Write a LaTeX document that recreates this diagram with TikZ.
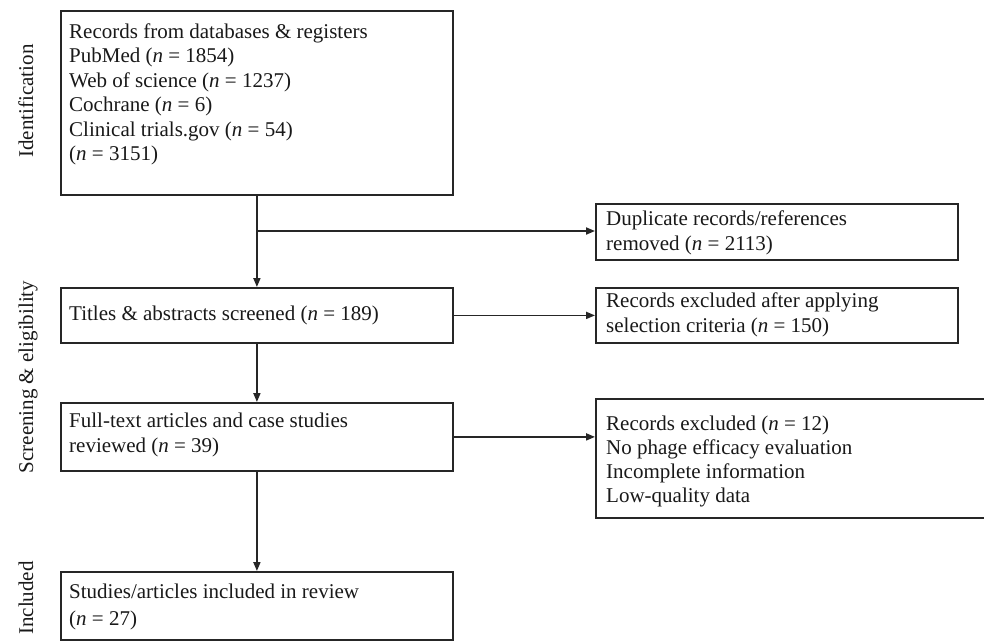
\documentclass[tikz,border=0pt]{standalone}
\usepackage{fontspec}
\setmainfont{Liberation Serif}
\usetikzlibrary{arrows.meta}
\newcommand{\txtlines}[2][24.5pt]{{\fontsize{21pt}{#1}\selectfont\begin{tabular}[t]{@{}l@{}}#2\end{tabular}}}
\begin{document}
\begin{tikzpicture}[x=1pt,y=-1pt,
  box/.style={draw=black!85, line width=1.8pt, rectangle, inner sep=0pt, anchor=north west},
  txt/.style={inner sep=0pt, anchor=base west, text=black!90},
  side/.style={inner sep=0pt, rotate=90, anchor=base, font=\fontsize{21pt}{24pt}\selectfont, text=black!90},
  conn/.style={draw=black!85, line width=1.8pt},
  arr/.style={conn, -{Triangle[length=9pt,width=7pt]}}]
\useasboundingbox (0,0) rectangle (984,641);
\clip (0,0) rectangle (984,641);
\fill[white] (0,0) rectangle (984,641);
% boxes
\node[box, minimum width=392pt, minimum height=184pt] (idb) at (60,10) {};
\node[box, minimum width=362pt, minimum height=56pt] (dup) at (595,203) {};
\node[box, minimum width=392pt, minimum height=55pt] (tit) at (60,287) {};
\node[box, minimum width=362pt, minimum height=55pt] (exa) at (595,287) {};
\node[box, minimum width=392pt, minimum height=68pt] (ful) at (60,402) {};
\node[box, minimum width=420pt, minimum height=119pt] (exb) at (595,398) {};
\node[box, minimum width=392pt, minimum height=68pt] (stu) at (60,571) {};
% texts
\node[txt] (t1) at (69,38) {\txtlines{Records from databases \& registers\\PubMed (\textit{n} = 1854)\\Web of science (\textit{n} = 1237)\\Cochrane (\textit{n} = 6)\\Clinical trials.gov (\textit{n} = 54)\\(\textit{n} = 3151)}};
\node[txt] (t2) at (606,225) {\txtlines[25pt]{Duplicate records/references\\removed (\textit{n} = 2113)}};
\node[txt] (t3) at (69,320) {\txtlines{Titles \& abstracts screened (\textit{n} = 189)}};
\node[txt] (t4) at (606,307) {\txtlines[25pt]{Records excluded after applying\\selection criteria (\textit{n} = 150)}};
\node[txt] (t5) at (69,427) {\txtlines[25pt]{Full-text articles and case studies\\reviewed (\textit{n} = 39)}};
\node[txt] (t6) at (606,430) {\txtlines[24pt]{Records excluded (\textit{n} = 12)\\No phage efficacy evaluation\\Incomplete information\\Low-quality data}};
\node[txt] (t7) at (69,598) {\txtlines[27pt]{Studies/articles included in review\\(\textit{n} = 27)}};
% side labels
\node[side] (s1) at (33,101) {Identification};
\node[side] (s2) at (33,377) {Screening \& eligibility};
\node[side] (s3) at (33,598) {Included};
% connectors
\draw[arr] (idb.south) -- (tit.north);
\draw[arr] (idb.south |- 0,231) coordinate (brk) -- (brk -| dup.west);
\draw[arr] (tit.east) -- (exa.west);
\draw[arr] (tit.south) -- (ful.north);
\draw[arr] (ful.east) -- (ful.east -| exb.west);
\draw[arr] (ful.south) -- (stu.north);
\end{tikzpicture}
\end{document}
